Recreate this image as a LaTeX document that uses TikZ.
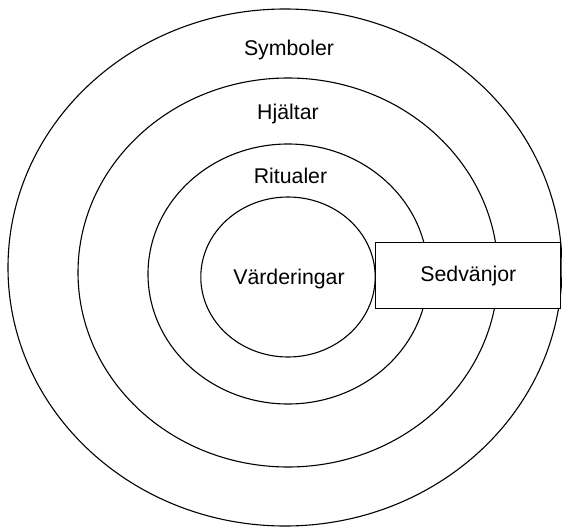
\documentclass[tikz,border=0pt]{standalone}
\usepackage{fontspec}
\setmainfont{Liberation Sans}
\usetikzlibrary{shapes.geometric}
\tikzset{
  ring/.style={ellipse,draw,line width=1.1pt,inner sep=0pt},
  ringlabel/.style={anchor=base,inner sep=0pt,font=\fontsize{21.3}{26}\selectfont},
  sidebox/.style={draw,fill=white,line width=1.1pt,inner sep=0pt,minimum width=185pt,minimum height=66pt,text height=15pt,text depth=4pt,font=\fontsize{21.3}{26}\selectfont}
}
\begin{document}
\begin{tikzpicture}[x=1pt,y=-1pt]
\useasboundingbox (0,0) rectangle (562,527);
\node[ring,minimum width=554pt,minimum height=517pt] (symboler) at (285,267.5) {};
\node[ring,minimum width=420pt,minimum height=389pt] (hjaltar) at (288,272.5) {};
\node[ring,minimum width=280pt,minimum height=260pt] (ritualer) at (288,274) {};
\node[ring,minimum width=174.4pt,minimum height=160pt] (varderingar) at (288,277) {};
\node[sidebox] (sedvanjor) at (468.4,275.9) {Sedvänjor};
\node[ringlabel] (symbolertext) at (289,56) {Symboler};
\node[ringlabel] (hjaltartext) at (288,119.3) {Hjältar};
\node[ringlabel] (ritualertext) at (290.5,183.5) {Ritualer};
\node[ringlabel] (varderingartext) at (289,284) {Värderingar};
\end{tikzpicture}
\end{document}
